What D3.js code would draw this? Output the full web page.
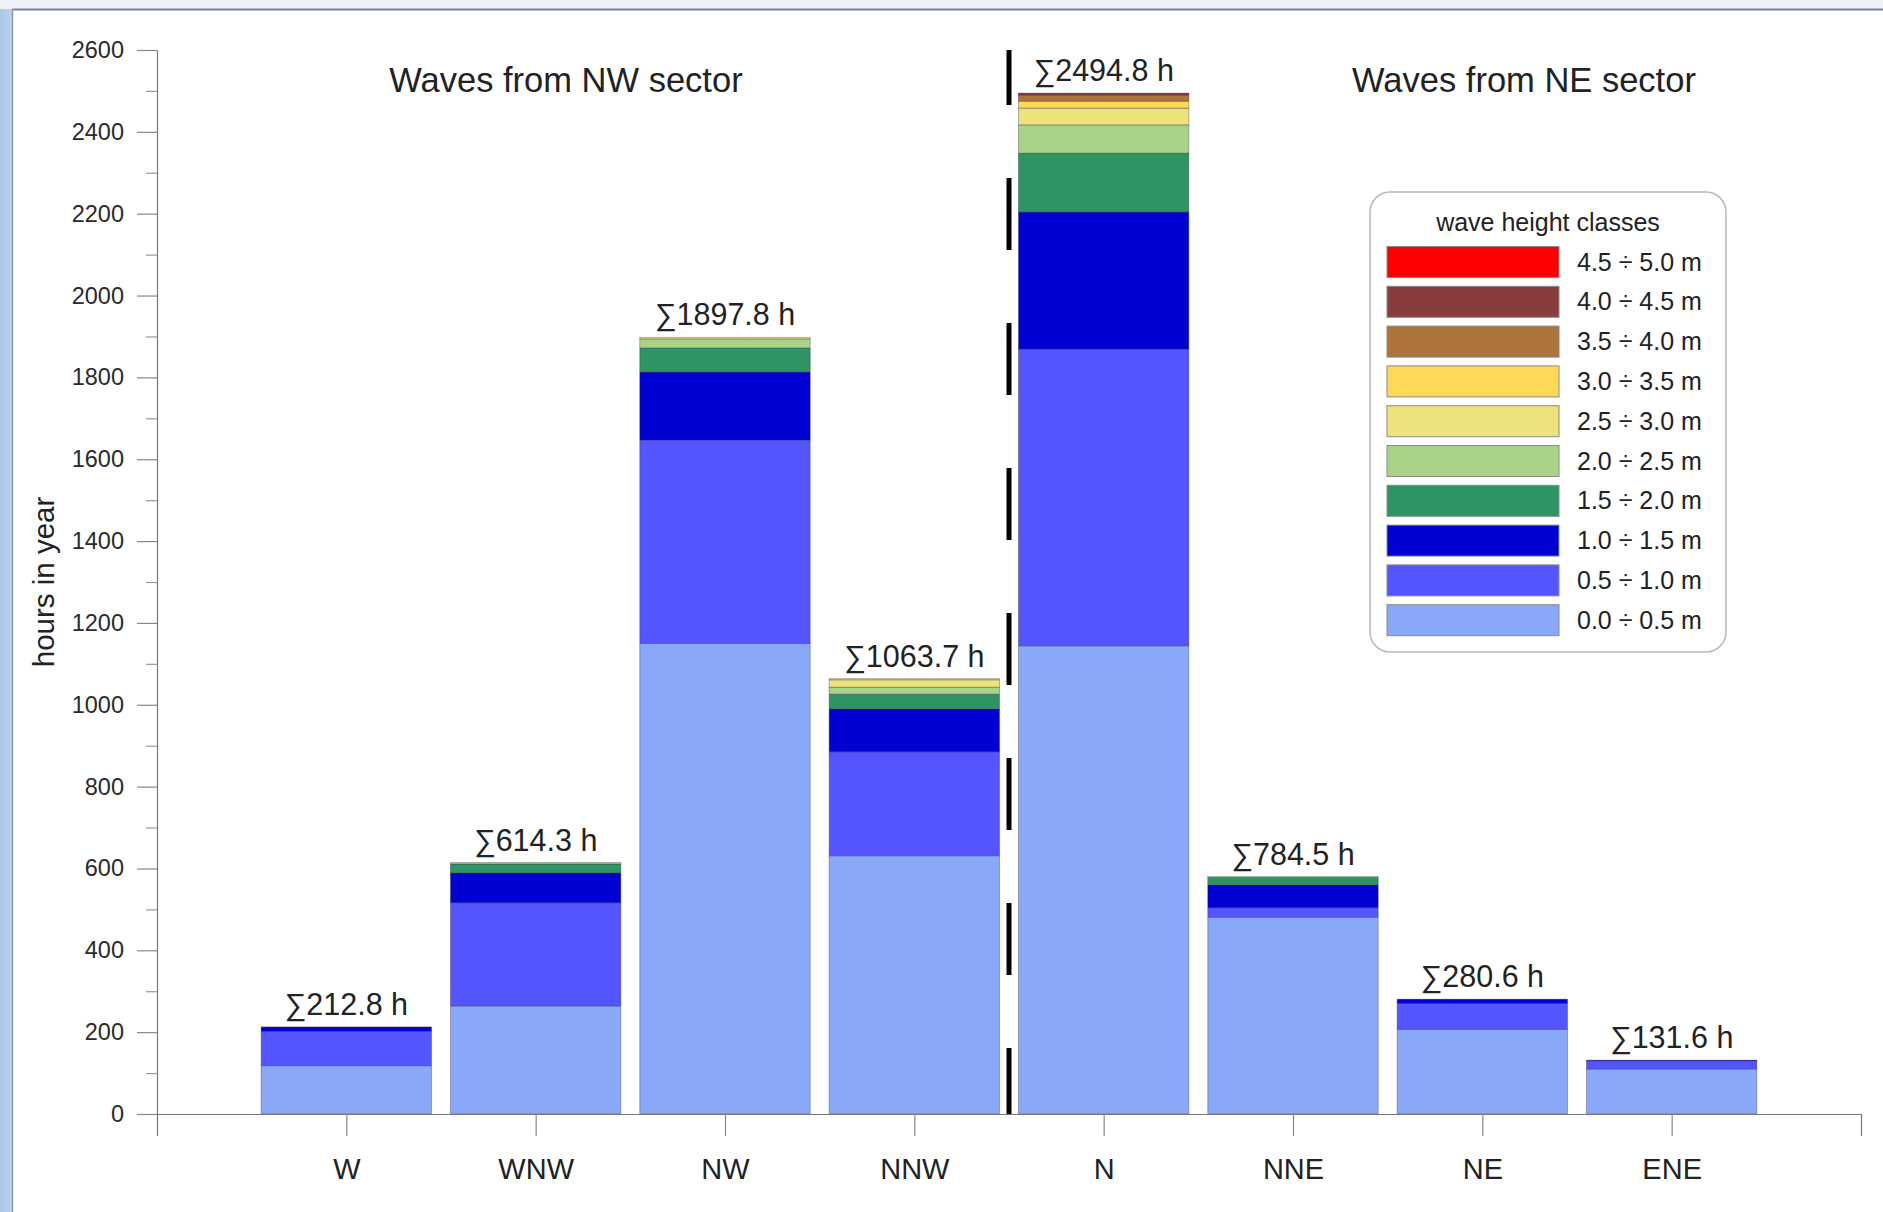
<!DOCTYPE html>
<html>
<head>
<meta charset="utf-8">
<script src="https://cdn.jsdelivr.net/npm/d3@7"></script>
<style>
  html, body { margin: 0; padding: 0; background: #ffffff; }
  svg { display: block; font-family: "Liberation Sans", Arial, sans-serif; }
</style>
</head>
<body>
<svg id="chart" width="1883" height="1212"></svg>
<script>
// ---------------- data ----------------
const categories = ["W", "WNW", "NW", "NNW", "N", "NNE", "NE", "ENE"];
const classLabels = ["0.0 ÷ 0.5 m", "0.5 ÷ 1.0 m", "1.0 ÷ 1.5 m", "1.5 ÷ 2.0 m", "2.0 ÷ 2.5 m",
                     "2.5 ÷ 3.0 m", "3.0 ÷ 3.5 m", "3.5 ÷ 4.0 m", "4.0 ÷ 4.5 m", "4.5 ÷ 5.0 m"];
const classColors = ["#8aa8f8", "#5555ff", "#0000d2", "#2e9463", "#aad38a",
                     "#ede37c", "#fdd957", "#ad743a", "#883c3c", "#ff0000"];

// hours per year for each wave-height class, by direction
const h00_05 = [118, 264, 1150, 631, 1144, 481, 207, 110];
const h05_10 = [84, 252, 497, 254, 725, 23, 63, 20];
const h10_15 = [10.8, 73, 166, 105, 335, 56, 10.6, 1.6];
const h15_20 = [0, 22, 59, 36, 144, 18, 0, 0];
const h20_25 = [0, 3.3, 22, 17, 69, 2, 0, 0];
const h25_30 = [0, 0, 3.8, 18, 41, 0, 0, 0];
const h30_35 = [0, 0, 0, 2.7, 17, 0, 0, 0];
const h35_40 = [0, 0, 0, 0, 15, 0, 0, 0];
const h40_45 = [0, 0, 0, 0, 4.8, 0, 0, 0];
const h45_50 = [0, 0, 0, 0, 0, 0, 0, 0];
const seriesValues = [h00_05, h05_10, h10_15, h15_20, h20_25, h25_30, h30_35, h35_40, h40_45, h45_50];

// totals printed above bars
const totalLabels = ["212.8", "614.3", "1897.8", "1063.7", "2494.8", "784.5", "280.6", "131.6"];

const yTicks = [0, 200, 400, 600, 800, 1000, 1200, 1400, 1600, 1800, 2000, 2200, 2400, 2600];
const yMinorTicks = [100, 300, 500, 700, 900, 1100, 1300, 1500, 1700, 1900, 2100, 2300, 2500];

const sectorTitles = ["Waves from NW sector", "Waves from NE sector"];
const legendTitle = "wave height classes";
const yTitle = "hours in year";

// ---------------- build ----------------
const svg = d3.select("#chart");
const W = 1883, H = 1212;

// slide-like frame
const defs = svg.append("defs");
const lg = defs.append("linearGradient").attr("id", "leftStrip").attr("x1", 0).attr("x2", 1).attr("y1", 0).attr("y2", 0);
lg.append("stop").attr("offset", "0%").attr("stop-color", "#a8c6e6");
lg.append("stop").attr("offset", "100%").attr("stop-color", "#bcd3ee");
svg.append("rect").attr("x", 0).attr("y", 0).attr("width", W).attr("height", H).attr("fill", "#eef3fa");
svg.append("rect").attr("x", 0).attr("y", 9).attr("width", 12).attr("height", H - 9).attr("fill", "url(#leftStrip)");
svg.append("rect").attr("x", 12).attr("y", 9).attr("width", W - 12).attr("height", H - 9).attr("fill", "#ffffff");
svg.append("line").attr("x1", 12).attr("x2", W).attr("y1", 9.5).attr("y2", 9.5).attr("stroke", "#7a80a2").attr("stroke-width", 2);
svg.append("line").attr("x1", 12.5).attr("x2", 12.5).attr("y1", 9).attr("y2", H).attr("stroke", "#8a98b8").attr("stroke-width", 1.5);

// scales
const x = d3.scaleLinear().domain([0, categories.length + 1]).range([157, 1861]);
const y = d3.scaleLinear().domain([0, 2600]).range([1114, 50]);
const bandUnits = 0.9;
const barW = x(bandUnits) - x(0);

// stacked data
const rows = categories.map((c, i) => {
  const o = { cat: c, idx: i + 1 };
  seriesValues.forEach((s, k) => { o["k" + k] = s[i]; });
  return o;
});
const keys = seriesValues.map((s, k) => "k" + k);
const stacked = d3.stack().keys(keys)(rows);

// axes
const yAxisG = svg.append("g").attr("transform", `translate(${x(0)},0)`);
yAxisG.call(d3.axisLeft(y).tickValues(yTicks).tickSize(20).tickSizeOuter(0).tickPadding(13).tickFormat(d3.format("d")));
yAxisG.select(".domain").attr("stroke", "#777").attr("stroke-width", 1.2);
yAxisG.selectAll(".tick line").attr("stroke", "#888").attr("stroke-width", 1.2);
yAxisG.selectAll(".tick text").attr("font-size", 23.5).attr("fill", "#2a2a2a").attr("font-family", "Liberation Sans, Arial, sans-serif");

const yMinorG = svg.append("g").attr("transform", `translate(${x(0)},0)`);
yMinorG.call(d3.axisLeft(y).tickValues(yMinorTicks).tickSize(11).tickFormat(""));
yMinorG.select(".domain").remove();
yMinorG.selectAll(".tick line").attr("stroke", "#999").attr("stroke-width", 1.2);

// bars
const segG = svg.append("g");
stacked.forEach((layer, k) => {
  segG.selectAll(null)
    .data(layer.filter(d => d[1] - d[0] > 0))
    .join("rect")
    .attr("x", d => x(d.data.idx) - barW / 2)
    .attr("width", barW)
    .attr("y", d => y(d[1]))
    .attr("height", d => y(d[0]) - y(d[1]))
    .attr("fill", classColors[k])
    .attr("stroke", "rgba(50,50,70,0.45)")
    .attr("stroke-width", 0.8);
});

const xAxisG = svg.append("g").attr("transform", `translate(0,${y(0)})`);
xAxisG.call(d3.axisBottom(x).tickValues(categories.map((c, i) => i + 1))
  .tickFormat((d) => categories[d - 1]).tickSize(22).tickSizeOuter(22).tickPadding(22));
xAxisG.select(".domain").attr("stroke", "#777").attr("stroke-width", 1.2);
xAxisG.selectAll(".tick line").attr("stroke", "#888").attr("stroke-width", 1.2);
xAxisG.selectAll(".tick text").attr("font-size", 29).attr("fill", "#222").attr("font-family", "Liberation Sans, Arial, sans-serif");

// totals above bars
const topOf = rows.map((r, i) => d3.sum(seriesValues, s => s[i]));
svg.append("g").selectAll("text")
  .data(categories)
  .join("text")
  .attr("x", (d, i) => x(i + 1))
  .attr("y", (d, i) => y(topOf[i]) - 12)
  .attr("text-anchor", "middle")
  .attr("font-size", 30.5)
  .attr("fill", "#222")
  .text((d, i) => "∑" + totalLabels[i] + " h");

// sector divider (dashed)
const divX = x(4.5);
svg.append("line")
  .attr("x1", divX).attr("x2", divX)
  .attr("y1", y(2600)).attr("y2", y(0))
  .attr("stroke", "#000").attr("stroke-width", 5)
  .attr("stroke-dasharray", "72,73").attr("stroke-dashoffset", 17);

// sector titles
svg.append("text").attr("x", x(2.16)).attr("y", 92).attr("text-anchor", "middle")
  .attr("font-size", 34.5).attr("fill", "#222").text(sectorTitles[0]);
svg.append("text").attr("x", x(7.22)).attr("y", 92).attr("text-anchor", "middle")
  .attr("font-size", 34.5).attr("fill", "#222").text(sectorTitles[1]);

// y title
svg.append("text")
  .attr("transform", "translate(54,582) rotate(-90)")
  .attr("text-anchor", "middle")
  .attr("font-size", 29.5).attr("fill", "#222")
  .text(yTitle);

// legend
const lgX = 1370, lgY = 192, lgW = 356, lgH = 460;
const legend = svg.append("g");
legend.append("rect").attr("x", lgX).attr("y", lgY).attr("width", lgW).attr("height", lgH)
  .attr("rx", 20).attr("ry", 20).attr("fill", "#fff").attr("stroke", "#b8b8b8").attr("stroke-width", 1.5);
legend.append("text").attr("x", 1548).attr("y", 231).attr("text-anchor", "middle")
  .attr("font-size", 25).attr("fill", "#222").text(legendTitle);
const order = d3.range(classLabels.length).reverse();
const item = legend.selectAll("g.item").data(order).join("g").attr("class", "item")
  .attr("transform", (d, j) => `translate(0,${262 + j * 39.8})`);
item.append("rect").attr("x", 1387).attr("y", -15.5).attr("width", 172).attr("height", 31)
  .attr("fill", d => classColors[d]).attr("stroke", "#8a8a8a").attr("stroke-width", 1);
item.append("text").attr("x", 1577).attr("y", 8.5).attr("font-size", 25).attr("fill", "#222")
  .text(d => classLabels[d]);
</script>
</body>
</html>
